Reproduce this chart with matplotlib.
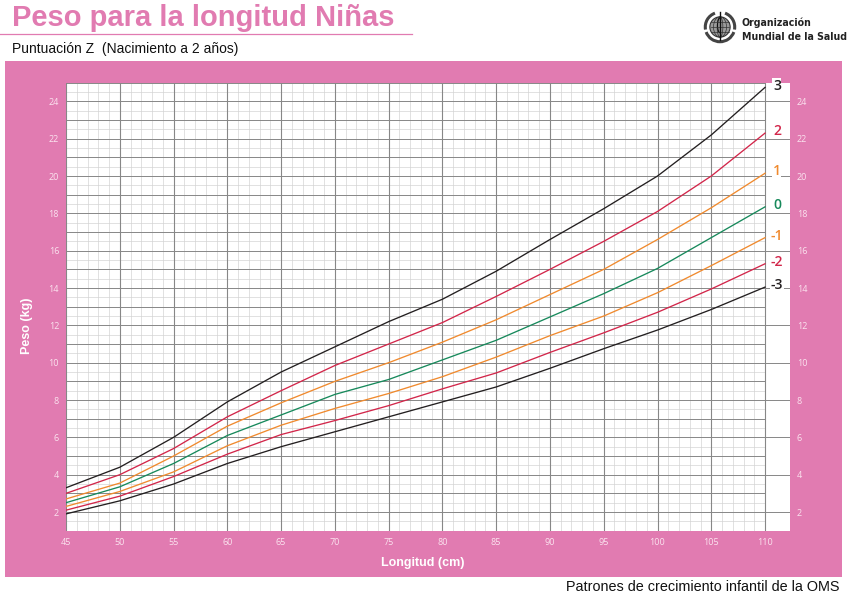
import matplotlib
matplotlib.use('Agg')
import matplotlib.pyplot as plt
from matplotlib.patches import Rectangle, Circle, Ellipse, Arc
from matplotlib.lines import Line2D

# ---------------- data ----------------
length_cm = [45, 50, 55, 60, 65, 70, 75, 80, 85, 90, 95, 100, 105, 110]
z_neg3 = [1.9, 2.6, 3.5, 4.6, 5.5, 6.3, 7.1, 7.9, 8.7, 9.7, 10.75, 11.75, 12.85, 14.05]
z_neg2 = [2.1, 2.85, 3.9, 5.1, 6.15, 6.9, 7.7, 8.6, 9.45, 10.55, 11.6, 12.7, 13.95, 15.3]
z_neg1 = [2.3, 3.1, 4.15, 5.55, 6.65, 7.55, 8.35, 9.25, 10.3, 11.45, 12.5, 13.75, 15.2, 16.7]
z_0 = [2.5, 3.35, 4.6, 6.1, 7.2, 8.3, 9.1, 10.15, 11.2, 12.45, 13.7, 15.05, 16.7, 18.35]
z_pos1 = [2.7, 3.55, 5.0, 6.6, 7.85, 9.0, 10.0, 11.1, 12.3, 13.65, 15.0, 16.6, 18.3, 20.15]
z_pos2 = [3.0, 4.0, 5.4, 7.1, 8.5, 9.85, 11.0, 12.15, 13.55, 15.0, 16.5, 18.1, 20.0, 22.3]
z_pos3 = [3.3, 4.4, 6.0, 7.9, 9.5, 10.85, 12.2, 13.4, 14.9, 16.6, 18.25, 20.0, 22.2, 24.75]

series_labels = ['3', '2', '1', '0', '-1', '-2', '-3']
series_values = [z_pos3, z_pos2, z_pos1, z_0, z_neg1, z_neg2, z_neg3]

x_ticks = list(range(45, 111, 5))
y_ticks = list(range(2, 25, 2))

# ---------------- styling ----------------
PINK = '#E17BB1'
TICK_COL = '#FBE3EF'
col_black = '#231F20'
col_red = '#D2264A'
col_orange = '#F08A2E'
col_green = '#17895B'
series_colors = [col_black, col_red, col_orange, col_green, col_orange, col_red, col_black]

W, H = 848, 595
fig = plt.figure(figsize=(W / 100, H / 100), dpi=100)
fig.patch.set_facecolor('white')

def fx(px):
    return px / W

def fy(py):
    return 1 - py / H

# pink panel
fig.patches.append(Rectangle((fx(5), fy(577)), fx(842) - fx(5), fy(61) - fy(577),
                             transform=fig.transFigure, facecolor=PINK, edgecolor='none', zorder=-5))
# title underline
fig.add_artist(Line2D([0, fx(412)], [fy(34), fy(34)], transform=fig.transFigure,
                      color=PINK, lw=0.9))

fig.text(fx(12), fy(26), 'Peso para la longitud Niñas', fontsize=21, fontweight='bold',
         color=PINK, family=['Liberation Sans', 'DejaVu Sans'], va='baseline', ha='left')
fig.text(fx(12), fy(53), 'Puntuación Z  (Nacimiento a 2 años)', fontsize=10,
         color='#111111', family=['Liberation Sans', 'DejaVu Sans'], va='baseline', ha='left')
fig.text(fx(840), fy(591), 'Patrones de crecimiento infantil de la OMS', fontsize=10.4,
         color='#111111', family=['Liberation Sans', 'DejaVu Sans'], va='baseline', ha='right')

# WHO logo text
for txt, base in (('Organización', 26.5), ('Mundial de la Salud', 39.5)):
    fig.text(fx(742), fy(base), txt, fontsize=7.6, fontweight='bold', color='#222222',
             fontstretch='condensed', family=['Liberation Sans Narrow', 'DejaVu Sans'],
             va='baseline', ha='left')

# WHO emblem (simplified drawing)
lax = fig.add_axes([fx(702), fy(45), fx(36), fy(9) - fy(45)])
lax.set_xlim(-1.1, 1.1)
lax.set_ylim(-1.1, 1.1)
lax.set_aspect('equal')
lax.axis('off')
lax.add_patch(Circle((0, 0), 0.62, facecolor='#9a9a9a', edgecolor='#333333', lw=0.8))
for w in (0.35, 0.8):
    lax.add_patch(Ellipse((0, 0), w, 1.24, facecolor='none', edgecolor='#333333', lw=0.5))
for hgt in (-0.3, 0.0, 0.3):
    lax.plot([-0.58, 0.58], [hgt, hgt], color='#333333', lw=0.5)
lax.plot([0, 0], [-0.8, 0.9], color='#111111', lw=1.0)
lax.add_patch(Arc((0, 0.1), 0.3, 0.9, theta1=90, theta2=270, color='#111111', lw=0.8))
lax.add_patch(Arc((0, 0), 1.8, 1.8, theta1=200, theta2=340, color='#444444', lw=2.2))
lax.add_patch(Arc((0, 0), 1.8, 1.8, theta1=110, theta2=190, color='#444444', lw=2.2))
lax.add_patch(Arc((0, 0), 1.8, 1.8, theta1=350, theta2=70, color='#444444', lw=2.2))

# ---------------- main chart ----------------
ax_left, ax_right, ax_top, ax_bottom = 66, 790, 82.7, 530.7
ax = fig.add_axes([fx(ax_left), fy(ax_bottom), fx(ax_right) - fx(ax_left), fy(ax_top) - fy(ax_bottom)])
ax.set_zorder(2)
ax.set_facecolor('white')
xmin, xmax, xgrid_end = 45, 112.32, 110
ymin, ymax = 1, 25
ax.set_xlim(xmin, xmax)
ax.set_ylim(ymin, ymax)
for s in ax.spines.values():
    s.set_visible(False)

minor_col = '#D4D4D4'
major_col = '#878787'
# minor grid
for L in range(45, 111):
    if L % 5:
        ax.plot([L, L], [ymin, ymax], color=minor_col, lw=0.5, zorder=1)
for k in range(1, 25):
    ax.plot([xmin, xgrid_end], [k + 0.5, k + 0.5], color=minor_col, lw=0.5, zorder=1)
# major grid
for k in range(1, 26):
    end = xmax if k % 2 == 0 else xgrid_end
    ax.plot([xmin, end], [k, k], color=major_col, lw=0.7, zorder=2)
for L in range(45, 111, 5):
    ax.plot([L, L], [ymin, ymax], color=major_col, lw=0.8, zorder=2)

# curves
for lab, vals, col in zip(series_labels, series_values, series_colors):
    ax.plot(length_cm, vals, color=col, lw=0.95, zorder=4, solid_joinstyle='round')
    ax.text(111.1, vals[-1] + 0.1, lab, ha='center', va='center', color=col,
            fontsize=10, fontweight='semibold', family=['Open Sans', 'DejaVu Sans'], zorder=5,
            bbox=dict(facecolor='white', edgecolor='none', pad=0.3))

ax.set_xticks(x_ticks)
ax.set_yticks(y_ticks)
ax.tick_params(axis='both', length=0, labelsize=6.5, labelcolor=TICK_COL)
ax.tick_params(axis='x', pad=5)
ax.tick_params(axis='y', pad=5, labelright=True)
for t in ax.get_xticklabels() + ax.get_yticklabels():
    t.set_family(['Open Sans', 'DejaVu Sans'])

fig.text(fx(423), fy(563), 'Longitud (cm)', fontsize=9, fontweight='bold', color='white',
         family=['Liberation Sans', 'DejaVu Sans'], ha='center', va='center', zorder=3)
fig.text(fx(27), fy(326), 'Peso (kg)', fontsize=9, fontweight='bold', color='white', rotation=90,
         family=['Liberation Sans', 'DejaVu Sans'], ha='center', va='center', zorder=3)

fig.savefig('out.png', dpi=100)
